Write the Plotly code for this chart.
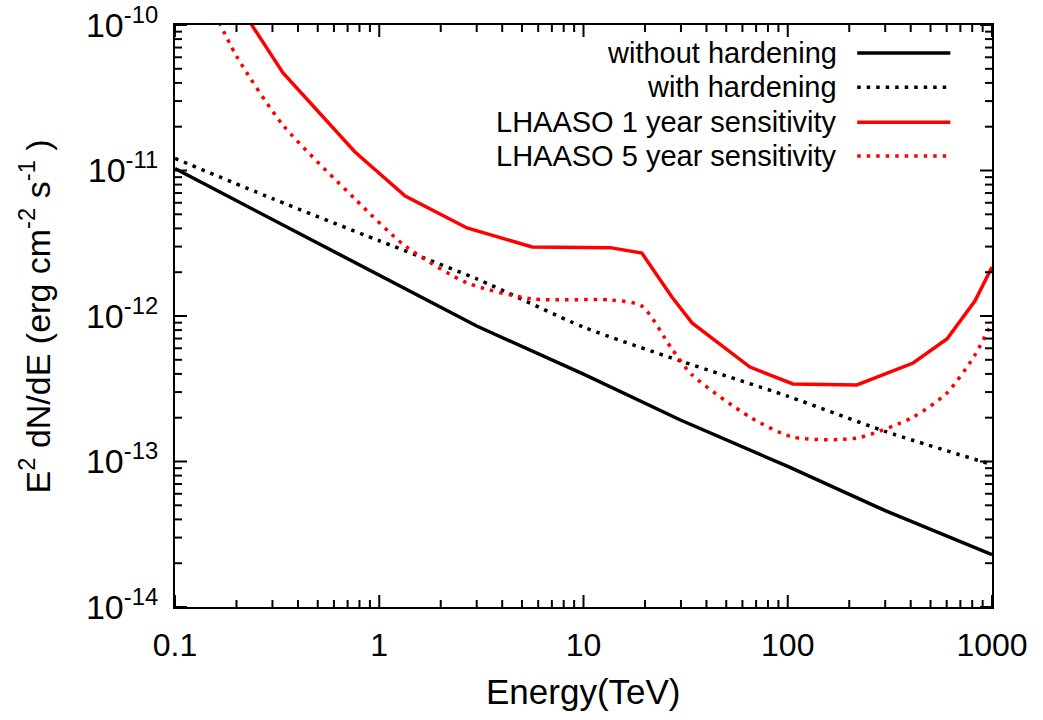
import numpy as np
import plotly.graph_objs as go

# energies in TeV
e_model = [0.1, 0.3, 1, 3, 10, 30, 100, 300, 1000]
# E^2 dN/dE in erg cm^-2 s^-1
f_without = [1.03e-11, 4.59e-12, 1.89e-12, 8.53e-13, 3.98e-13, 1.92e-13, 9.25e-14, 4.59e-14, 2.29e-14]
f_with = [1.21e-11, 6.41e-12, 3.29e-12, 1.80e-12, 8.39e-13, 4.90e-13, 2.81e-13, 1.61e-13, 9.53e-14]

e_lhaaso1 = [0.15, 0.338, 0.761, 1.34, 2.69, 5.6, 13.5, 19.3, 27.1, 34.0, 65.3, 106, 218, 411, 602, 826, 1000]
f_lhaaso1 = [2.7e-10, 4.68e-11, 1.34e-11, 6.68e-12, 4.03e-12, 2.98e-12, 2.95e-12, 2.71e-12, 1.35e-12,
             8.96e-13, 4.46e-13, 3.41e-13, 3.36e-13, 4.75e-13, 6.95e-13, 1.27e-12, 2.17e-12]
e_lhaaso5 = [0.15, 0.2, 0.338, 0.761, 1.34, 2.69, 5.6, 13.5, 19.3, 27.1, 34.0, 65.3, 106, 218, 411, 602, 826, 1000]
f_lhaaso5 = [1.37e-10, 6.12e-11, 2.05e-11, 6.37e-12, 3.03e-12, 1.69e-12, 1.31e-12, 1.29e-12, 1.17e-12, 5.93e-13,
             3.94e-13, 2.02e-13, 1.47e-13, 1.45e-13, 2.02e-13, 2.96e-13, 5.40e-13, 9.10e-13]

names = ['without hardening', 'with hardening', 'LHAASO 1 year sensitivity', 'LHAASO 5 year sensitivity']

x_tickvals = [0.1, 1, 10, 100, 1000]
x_ticktext = ['0.1', '1', '10', '100', '1000']
y_tickvals = [1e-14, 1e-13, 1e-12, 1e-11, 1e-10]
y_ticktext = ['10<sup>-14</sup>', '10<sup>-13</sup>', '10<sup>-12</sup>', '10<sup>-11</sup>', '10<sup>-10</sup>']

# minor ticks 2..9 in every decade
x_minor = [m * v for v in x_tickvals[:-1] for m in range(2, 10)]
y_minor = [m * v for v in y_tickvals[:-1] for m in range(2, 10)]

X_RANGE = [-1, 3]
Y_RANGE = [-14, -10]
W, H = 1043, 720
MARGIN = dict(l=175, r=51, t=25, b=113)
PW = W - MARGIN['l'] - MARGIN['r']
PH = H - MARGIN['t'] - MARGIN['b']

DOT = '3.5px,6px'
series = [
    (e_model, f_without, dict(color='black', width=3.5), 'linear'),
    (e_model, f_with, dict(color='black', width=3.5, dash=DOT), 'spline'),
    (e_lhaaso1, f_lhaaso1, dict(color='red', width=3.5), 'linear'),
    (e_lhaaso5, f_lhaaso5, dict(color='red', width=3.5, dash=DOT), 'spline'),
]

fig = go.Figure()
for (xs, ys, ln, shape), nm in zip(series, names):
    line = dict(ln, shape=shape)
    if shape == 'spline':
        line['smoothing'] = 0.7
    fig.add_trace(go.Scatter(x=xs, y=ys, mode='lines', name=nm, line=line, showlegend=False))

# gnuplot-style key: text on the left, line sample on the right
key_y = [0.952, 0.893, 0.833, 0.775]
for (xs, ys, ln, shape), nm, ky in zip(series, names, key_y):
    fig.add_annotation(x=0.813, y=ky, xref='paper', yref='paper', text=nm, showarrow=False,
                       xanchor='right', yanchor='middle', font=dict(size=29, color='black'))
    fig.add_shape(type='line', xref='paper', yref='paper', x0=0.835, x1=0.949, y0=ky, y1=ky,
                  line=ln)

# axis titles
fig.add_annotation(x=-0.172, y=0.5, xref='paper', yref='paper', textangle=-90, showarrow=False,
                   text='E<sup>2</sup> dN/dE (erg cm<sup>-2</sup> s<sup>-1</sup> )',
                   xanchor='center', yanchor='middle', font=dict(size=34, color='black'))
fig.add_annotation(x=0.5006, y=-0.146, xref='paper', yref='paper', showarrow=False,
                   text='Energy(TeV)', xanchor='center', yanchor='middle',
                   font=dict(size=35, color='black'))

# inward tick marks on all four sides (major and minor), as in gnuplot
tick_line = dict(color='black', width=2)
for vals, length in ((x_tickvals, 12), (x_minor, 7)):
    for v in vals:
        px = (np.log10(v) - X_RANGE[0]) / (X_RANGE[1] - X_RANGE[0])
        ln = length / PH
        fig.add_shape(type='line', xref='paper', yref='paper', x0=px, x1=px, y0=0, y1=ln,
                      line=tick_line, layer='above')
        fig.add_shape(type='line', xref='paper', yref='paper', x0=px, x1=px, y0=1, y1=1 - ln,
                      line=tick_line, layer='above')
for vals, length in ((y_tickvals, 12), (y_minor, 7)):
    for v in vals:
        py_ = (np.log10(v) - Y_RANGE[0]) / (Y_RANGE[1] - Y_RANGE[0])
        ln = length / PW
        fig.add_shape(type='line', xref='paper', yref='paper', x0=0, x1=ln, y0=py_, y1=py_,
                      line=tick_line, layer='above')
        fig.add_shape(type='line', xref='paper', yref='paper', x0=1, x1=1 - ln, y0=py_, y1=py_,
                      line=tick_line, layer='above')

axis_style = dict(showgrid=False, zeroline=False, showline=True, linecolor='black', linewidth=2,
                  mirror=True, ticks='', automargin=False, ticklabeloverflow='allow')
fig.update_xaxes(type='log', range=X_RANGE, tickvals=x_tickvals, ticktext=x_ticktext,
                 tickfont=dict(size=32, color='black'), ticklabelstandoff=9, **axis_style)
fig.update_yaxes(type='log', range=Y_RANGE, tickvals=y_tickvals, ticktext=y_ticktext,
                 tickfont=dict(size=34, color='black'), ticklabelstandoff=8, **axis_style)

fig.update_layout(width=W, height=H, plot_bgcolor='white', paper_bgcolor='white',
                  font=dict(family='Liberation Sans, Arial, sans-serif', color='black'),
                  margin=MARGIN)

# drop the default page margin so the figure sits at the window's corner
fig.write_html('out.html', config={'displayModeBar': False},
               post_script="document.body.style.margin='0';")
